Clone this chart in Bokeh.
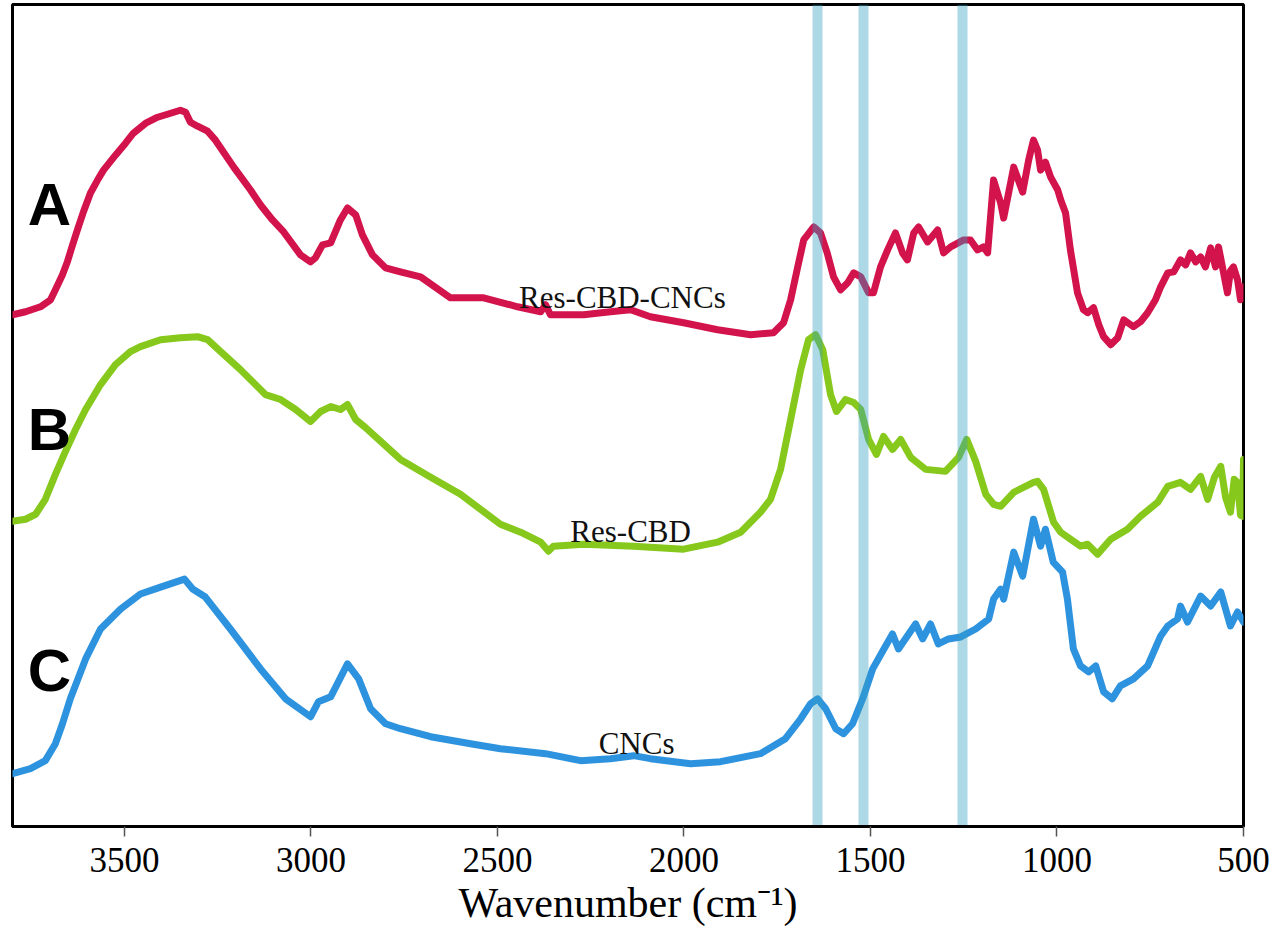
from bokeh.plotting import figure
from bokeh.models import Range1d, FixedTicker
from bokeh.core.properties import value
from bokeh.embed import file_html
from bokeh.resources import INLINE

# ---- data (wavenumber cm-1, intensity a.u. with vertical offsets) ----
a_wn = [3800, 3765, 3725, 3698, 3685, 3666, 3653, 3639, 3626, 3610, 3591, 3572, 3556, 3524, 3497, 3476,
        3443, 3411, 3376, 3350, 3336, 3323, 3304, 3277, 3256, 3207, 3162, 3135, 3103, 3073, 3028, 3001,
        2988, 2969, 2947, 2921, 2902, 2880, 2862, 2835, 2800, 2760, 2706, 2626, 2537, 2446, 2384, 2371,
        2358, 2269, 2197, 2143, 2090, 2001, 1910, 1821, 1760, 1733, 1714, 1695, 1679, 1652, 1634, 1616,
        1599, 1580, 1561, 1545, 1526, 1505, 1492, 1473, 1454, 1433, 1414, 1401, 1384, 1371, 1347, 1320,
        1304, 1285, 1250, 1232, 1213, 1197, 1186, 1170, 1151, 1143, 1116, 1092, 1076, 1063, 1052, 1044,
        1031, 1017, 998, 990, 977, 964, 945, 929, 918, 902, 888, 875, 856, 837, 821, 795, 776, 757, 736,
        722, 703, 687, 669, 655, 642, 628, 615, 602, 588, 575, 567, 556, 543, 535, 527, 516, 508, 500]
a_int = [513, 516, 521, 528, 538, 553, 566, 583, 598, 616, 635, 648, 658, 673, 685, 695,
         705, 711, 715, 718, 716, 706, 702, 697, 688, 661, 638, 623, 608, 596, 573, 566,
         570, 583, 585, 608, 620, 613, 593, 573, 560, 556, 551, 530, 530, 521, 516, 523,
         513, 513, 516, 518, 511, 505, 498, 493, 495, 505, 528, 561, 588, 601, 595, 575,
         551, 538, 545, 555, 551, 535, 535, 561, 578, 595, 575, 568, 595, 601, 586, 598,
         575, 581, 588, 588, 578, 581, 575, 648, 625, 610, 661, 636, 668, 688, 678, 658,
         666, 651, 638, 628, 615, 578, 535, 518, 515, 520, 503, 491, 483, 490, 508, 501, 506, 515, 528,
         541, 555, 556, 568, 563, 575, 566, 571, 561, 580, 561, 581, 560, 535, 557, 561, 548, 528, 541]

b_wn = [3800, 3765, 3738, 3712, 3685, 3658, 3631, 3604, 3564, 3524, 3484, 3457, 3403, 3350, 3304, 3277,
        3242, 3189, 3122, 3081, 3041, 3001, 2974, 2947, 2921, 2902, 2880, 2854, 2813, 2760, 2679, 2599,
        2492, 2438, 2384, 2363, 2350, 2269, 2135, 2001, 1910, 1848, 1795, 1768, 1741, 1714, 1687, 1666,
        1647, 1628, 1607, 1591, 1567, 1545, 1526, 1505, 1484, 1465, 1441, 1419, 1392, 1352, 1299, 1264,
        1242, 1218, 1191, 1170, 1151, 1116, 1063, 1052, 1036, 1009, 990, 964, 937, 918, 891, 856, 811,
        776, 730, 703, 669, 642, 615, 596, 578, 561, 548, 535, 525, 516, 508, 502, 500]
b_int = [306, 308, 313, 328, 353, 376, 398, 418, 443, 463, 476, 481, 488, 490, 491, 488,
         476, 458, 433, 428, 418, 406, 416, 421, 418, 423, 408, 400, 386, 368, 350, 333,
         303, 295, 285, 276, 281, 283, 281, 278, 285, 295, 315, 328, 358, 408, 458, 488,
         493, 478, 433, 416, 428, 425, 418, 388, 373, 391, 378, 388, 370, 358, 356, 370,
         388, 366, 333, 323, 321, 335, 345, 346, 338, 305, 295, 288, 281, 283, 273, 288, 298,
         311, 325, 341, 345, 338, 351, 328, 350, 361, 330, 315, 348, 345, 312, 311, 368]

c_wn = [3800, 3752, 3712, 3685, 3666, 3645, 3604, 3564, 3510, 3457, 3403, 3363, 3339, 3317, 3283, 3216,
        3135, 3068, 3001, 2980, 2947, 2902, 2872, 2840, 2800, 2760, 2679, 2572, 2492, 2371, 2277, 2197,
        2135, 2090, 1982, 1902, 1795, 1728, 1687, 1661, 1642, 1620, 1593, 1572, 1548, 1521, 1494, 1467,
        1441, 1425, 1403, 1379, 1360, 1339, 1318, 1291, 1258, 1218, 1183, 1170, 1151, 1143, 1116, 1092,
        1063, 1044, 1031, 1010, 985, 972, 956, 937, 915, 896, 875, 852, 830, 795, 757, 722, 703, 677,
        669, 650, 615, 588, 561, 548, 535, 516, 500]
c_int = [53, 58, 66, 83, 103, 128, 168, 198, 218, 233, 240, 245, 248, 238, 230, 198,
         158, 128, 110, 125, 130, 163, 148, 118, 103, 98, 90, 83, 78, 73, 66, 68,
         71, 68, 63, 65, 73, 88, 108, 123, 128, 118, 98, 93, 103, 128, 158, 176,
         193, 178, 190, 203, 188, 203, 183, 188, 190, 198, 208, 228, 238, 228, 275, 251,
         308, 281, 298, 265, 255, 228, 178, 161, 155, 161, 135, 128, 141, 148, 161, 191, 201, 208,
         221, 205, 231, 221, 235, 218, 201, 215, 205]

band_centers = [1642, 1518, 1253]

series_names = ["Res-CBD-CNCs", "Res-CBD", "CNCs"]
name_x = [2165, 2143, 2127]
name_y = [530, 296, 83]

panel_letters = ["A", "B", "C"]
letter_x = [3701, 3701, 3701]
letter_y = [624, 398, 156]

x_ticks = [3500, 3000, 2500, 2000, 1500, 1000, 500]

# ---- figure ----
p = figure(frame_width=1231, frame_height=822, output_backend="svg", toolbar_location=None,
           x_range=Range1d(3800, 500), y_range=Range1d(0, 824),
           y_axis_location=None, min_border_left=12, min_border_right=33,
           min_border_top=4, min_border_bottom=0, background_fill_color="white")
p.xgrid.visible = False
p.ygrid.visible = False
p.outline_line_color = "black"
p.outline_line_width = 3

line_kw = dict(line_width=7, line_join="round", line_cap="round")
p.line(a_wn, a_int, line_color="#d3134b", **line_kw)
p.line(b_wn, b_int, line_color="#86c81c", **line_kw)
p.line(c_wn, c_int, line_color="#2e93df", **line_kw)

band_half = 14
p.vstrip(x0=[c - band_half for c in band_centers], x1=[c + band_half for c in band_centers],
         fill_color="#329dc0", fill_alpha=0.4, line_color=None)

p.text(x=name_x, y=name_y, text=series_names, text_font=value("Liberation Serif"),
       text_font_size="31px", text_align="center", text_baseline="alphabetic", text_color="#111111")
p.text(x=letter_x, y=letter_y, text=panel_letters, text_font=value("Liberation Sans"),
       text_font_size="60px", text_font_style="bold", text_align="center",
       text_baseline="alphabetic", text_color="black")

ax = p.xaxis[0]
ax.ticker = FixedTicker(ticks=x_ticks)
ax.minor_tick_line_color = None
ax.major_tick_in = 0
ax.major_tick_out = 10
ax.major_tick_line_color = "#555555"
ax.major_tick_line_width = 1.5
ax.axis_line_color = "black"
ax.axis_line_width = 3
ax.major_label_text_font = "Liberation Serif"
ax.major_label_text_font_size = "35px"
ax.major_label_text_color = "black"
ax.major_label_standoff = 11
ax.axis_label = "Wavenumber (cm\u207b\u00b9)"
ax.axis_label_text_font = "Liberation Serif"
ax.axis_label_text_font_size = "42px"
ax.axis_label_text_font_style = "normal"
ax.axis_label_text_color = "black"
ax.axis_label_standoff = 5

open("out.html", "w").write(file_html(p, INLINE))
